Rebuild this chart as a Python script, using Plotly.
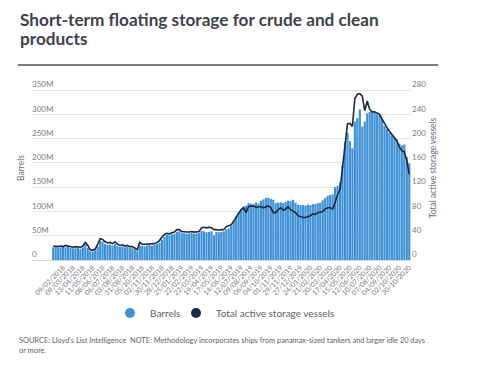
import pandas as pd
import plotly.graph_objects as go

# Barrels in floating storage (millions), weekly
BARRELS_M = [
    26, 27, 25, 26, 27, 26, 28, 25, 24, 24,
    25, 23, 26, 32, 25, 18, 17, 20, 28, 40,
    38, 33, 31, 32, 30, 33, 29, 27, 28, 26,
    27, 25, 24, 22, 18, 30, 29, 28, 30, 31,
    29, 31, 33, 36, 42, 48, 52, 51, 53, 54,
    58, 59, 56, 55, 54, 55, 56, 54, 55, 56,
    60, 59, 57, 58, 59, 51, 58, 57, 58, 59,
    63, 65, 70, 80, 90, 98, 105, 110, 112, 117,
    116, 115, 118, 116, 122, 125, 128, 128, 126, 124,
    117, 118, 119, 117, 120, 122, 121, 124, 118, 114,
    113, 113, 112, 114, 113, 115, 115, 117, 118, 123,
    128, 132, 134, 135, 150, 153, 160, 195, 243, 262,
    245, 230, 285, 292, 310, 275, 285, 302, 305, 306,
    303, 300, 298, 292, 276, 270, 262, 257, 252, 248,
    240, 236, 238, 212, 199,
]

# Total active storage vessels, weekly
VESSELS = [
    23, 22, 22, 23, 22, 24, 23, 22, 21, 22,
    22, 21, 23, 29, 24, 17, 16, 18, 26, 35,
    34, 30, 28, 29, 27, 30, 26, 24, 25, 23,
    24, 22, 22, 20, 17, 29, 26, 26, 26, 27,
    26, 27, 29, 32, 38, 42, 44, 43, 45, 46,
    50, 50, 47, 46, 46, 46, 47, 46, 46, 47,
    53, 54, 53, 54, 53, 50, 50, 49, 50, 50,
    55, 56, 58, 64, 70, 77, 83, 86, 78, 88,
    88, 89, 87, 88, 88, 86, 88, 89, 86, 78,
    78, 83, 86, 82, 84, 88, 83, 80, 78, 73,
    71, 70, 70, 71, 73, 76, 75, 78, 79, 80,
    84, 86, 86, 84, 94, 108, 116, 152, 196, 224,
    225, 220, 266, 273, 274, 270, 246, 262, 248, 244,
    244, 242, 240, 232, 224, 218, 212, 206, 202, 196,
    186, 180, 178, 164, 141,
]

TICK_LABELS = [
    "12/01/2018", "09/02/2018", "09/03/2018", "13/04/2018", "11/05/2018",
    "08/06/2018", "06/07/2018", "03/08/2018", "31/08/2018", "05/10/2018",
    "02/11/2018", "30/11/2018", "28/12/2018", "25/01/2019", "22/02/2019",
    "22/03/2019", "19/04/2019", "17/05/2019", "14/06/2019", "12/07/2019",
    "09/08/2019", "06/09/2019", "04/10/2019", "01/11/2019", "29/11/2019",
    "27/12/2019", "24/01/2020", "21/02/2020", "20/03/2020", "17/04/2020",
    "15/05/2020", "12/06/2020", "10/07/2020", "07/08/2020", "04/09/2020",
    "02/10/2020", "30/10/2020",
]

MISSING_WEEKS = ["30/03/2018", "14/09/2018"]

weeks = pd.date_range("2018-01-12", "2020-10-30", freq="7D")
CATEGORIES = [d.strftime("%d/%m/%Y") for d in weeks]
CATEGORIES = [c for c in CATEGORIES if c not in MISSING_WEEKS]

barrels = [v * 1e6 for v in BARRELS_M]

BAR_COLOR = "#3f91d6"
LINE_COLOR = "#1b2a44"
TICK_GREY = "#777b85"
FONT = "Lato"

# the page body has an 8px margin, so the figure is drawn at (8, 8) in the window
OFF = 8
W, H = 477 - OFF, 373 - OFF
# target window coordinates of the plot area; top gridline at y=90, zero at y=260
PL, PR, PT, PB = 32, 411, 76, 260
GRID_TOP = 90
EXT = (PB - PT) / (PB - GRID_TOP)


def px_x(X):
    return (X - PL) / (PR - PL)


def px_y(Y):
    return (PB - Y) / (PB - PT)


fig = go.Figure()
fig.add_trace(go.Bar(
    x=CATEGORIES, y=barrels, name="Barrels",
    marker=dict(color=BAR_COLOR, line=dict(width=0)),
    showlegend=False, yaxis="y",
))
fig.add_trace(go.Scatter(
    x=CATEGORIES, y=VESSELS, name="Total active storage vessels",
    mode="lines", line=dict(color=LINE_COLOR, width=1.6),
    showlegend=False, yaxis="y2",
))
# legend entries (circle symbols)
fig.add_trace(go.Scatter(
    x=[None], y=[None], mode="markers", name="Barrels",
    marker=dict(symbol="circle", size=10, color=BAR_COLOR), yaxis="y",
    legend="legend",
))
fig.add_trace(go.Scatter(
    x=[None], y=[None], mode="markers", name="Total active storage vessels",
    marker=dict(symbol="circle", size=10, color=LINE_COLOR), yaxis="y2",
    legend="legend2",
))

LEG = dict(
    orientation="h", xanchor="left", y=px_y(313), yanchor="middle",
    font=dict(size=10, color="#5d616c"), itemwidth=30,
    bgcolor="rgba(0,0,0,0)", borderwidth=0,
)

n = len(CATEGORIES)
fig.update_layout(
    width=W, height=H,
    margin=dict(l=PL - OFF, r=W - (PR - OFF), t=PT - OFF, b=H - (PB - OFF),
                pad=0, autoexpand=False),
    paper_bgcolor="white", plot_bgcolor="white",
    font=dict(family=FONT, color=TICK_GREY),
    bargap=0.12,
    showlegend=True,
    legend=dict(LEG, x=px_x(110)),
    legend2=dict(LEG, x=px_x(176)),
    xaxis=dict(
        type="category", automargin=False,
        range=[-0.5 - 20 / 2.48, n - 0.5 + 0.2],
        tickmode="array", tickvals=TICK_LABELS, ticktext=TICK_LABELS,
        tickangle=-45, tickfont=dict(size=7, color=TICK_GREY),
        ticks="", showgrid=False, showline=True, linecolor="#dcdcdc",
        linewidth=1, zeroline=False,
    ),
    yaxis=dict(
        automargin=False,
        range=[0, 350e6 * EXT], tickvals=[i * 50e6 for i in range(8)],
        tickformat="~s", ticklabelposition="inside top",
        ticklabelstandoff=-3,
        tickfont=dict(size=8, color=TICK_GREY),
        showgrid=True, gridcolor="#e4e4e4", gridwidth=1,
        zeroline=False, showline=False, ticks="",
        title=dict(text="Barrels", font=dict(size=8.5, color="#6a6e78"), standoff=6),
    ),
    yaxis2=dict(
        automargin=False,
        overlaying="y", side="right",
        range=[0, 280 * EXT], tickvals=[i * 40 for i in range(8)],
        ticklabelposition="outside top",
        tickfont=dict(size=8, color=TICK_GREY),
        showgrid=False, zeroline=False, showline=False, ticks="",
        title=dict(text="Total active storage vessels", font=dict(size=8.5, color="#6a6e78"), standoff=4),
    ),
)

TITLE_COLOR = "#3e414c"
fig.add_annotation(
    text="<b>Short-term floating storage for crude and clean</b>",
    xref="paper", yref="paper", x=px_x(18), y=px_y(19.5),
    xanchor="left", yanchor="middle", showarrow=False,
    font=dict(family=FONT, size=17.2, color=TITLE_COLOR),
)
fig.add_annotation(
    text="<b>products</b>",
    xref="paper", yref="paper", x=px_x(18), y=px_y(38.5),
    xanchor="left", yanchor="middle", showarrow=False,
    font=dict(family=FONT, size=17.2, color=TITLE_COLOR),
)
fig.add_shape(
    type="line", xref="paper", yref="paper",
    x0=px_x(18), x1=px_x(438), y0=px_y(65), y1=px_y(65),
    line=dict(color="#4b505c", width=1.5),
)
fig.add_annotation(
    text=("SOURCE: Lloyd's List Intelligence  NOTE: Methodology incorporates ships from "
          "panamax-sized tankers and larger idle 20 days<br>or more."),
    xref="paper", yref="paper", x=px_x(17), y=px_y(334),
    xanchor="left", yanchor="top", align="left", showarrow=False,
    font=dict(family=FONT, size=7.4, color="#5d616c"),
)

fig.write_html("out.html")
